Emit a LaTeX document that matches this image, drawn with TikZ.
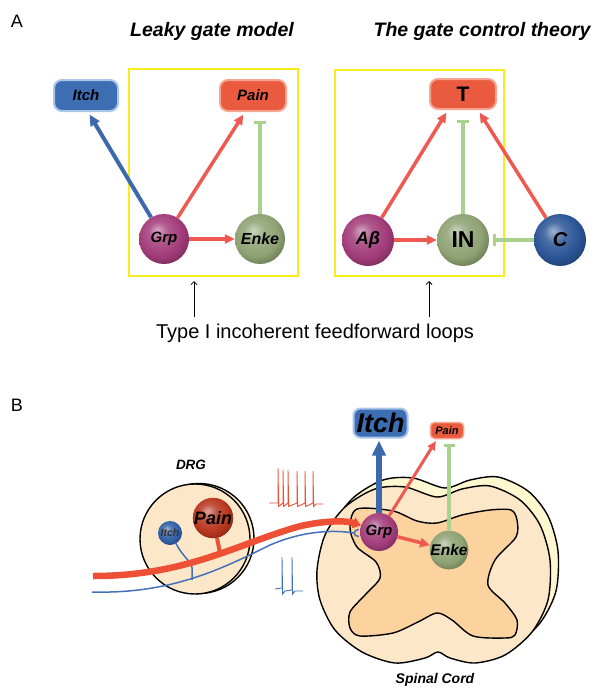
\documentclass[tikz,border=0pt]{standalone}
\usepackage{fontspec}
\setmainfont{Liberation Sans}
\usetikzlibrary{arrows.meta,calc}
\newcommand\myfs[1]{\fontsize{#1}{#1}\selectfont}
\definecolor{itchfill}{HTML}{3D6DB3}
\definecolor{itchedge}{HTML}{A9C5EA}
\definecolor{painfill}{HTML}{EA5A3F}
\definecolor{painedge}{HTML}{F7A38F}
\definecolor{redarr}{HTML}{EE5A52}
\definecolor{bluearr}{HTML}{3C68AD}
\definecolor{greenln}{HTML}{A9D28F}
\definecolor{yelbox}{HTML}{F9EC1C}
\definecolor{grpc}{HTML}{A23C7A}
\definecolor{enkec}{HTML}{8EA273}
\definecolor{cc}{HTML}{2B5597}
\definecolor{drgpain}{HTML}{B9371F}
\definecolor{drgitch}{HTML}{2F5EA5}
\definecolor{peach}{HTML}{FDE7C9}
\definecolor{lightyel}{HTML}{FEF7CF}
\definecolor{greymat}{HTML}{FCD29E}
\definecolor{fiberred}{HTML}{EE5036}
\definecolor{fiberblue}{HTML}{4470B8}
\colorlet{mycol}{red}
\pgfdeclareradialshading[mycol]{softball}{\pgfqpoint{-7bp}{9bp}}{color(0bp)=(mycol!45!white); color(10bp)=(mycol!85!white); color(22bp)=(mycol); color(32bp)=(mycol!72!black); color(50bp)=(mycol!55!black)}
\begin{document}
\begin{tikzpicture}[x=1pt,y=-1pt,
  sball/.style={circle, inner sep=0pt, minimum size=#1, shade, shading=softball},
  bcol/.code={\colorlet{mycol}{#1}},
  bt/.style={font=\bfseries\itshape\myfs{#1}},
  ttl/.style={font=\bfseries\itshape\myfs{19.5}},
  itchbox/.style={rounded corners=8pt, fill=itchfill, draw=itchedge, line width=2pt, inner sep=0pt},
  painbox/.style={rounded corners=8pt, fill=painfill, draw=painedge, line width=2pt, inner sep=0pt},
  ybox/.style={draw=yelbox, line width=2pt},
  rarr/.style={draw=redarr, line width=3.5pt, -{Triangle[length=10pt,width=9pt]}, shorten >=3pt},
  barr/.style={draw=bluearr, line width=4pt, -{Triangle[length=11pt,width=10pt]}, shorten >=3pt},
  ginh/.style={draw=greenln, line width=4pt, -{Bar[width=12pt,line width=3pt]}},
  thinarr/.style={draw=black, line width=0.8pt, -{Straight Barb[length=3pt,width=6pt]}},
  spk/.style={line width=0.9pt, line join=miter},
  outl/.style={draw=black, line width=1.4pt},
]
\useasboundingbox (0,0) rectangle (604,699);

% ---------------- Part A ----------------
\node[font=\myfs{18}] (labA) at (17,21) {A};
\node[ttl] (tl) at (212,31) {Leaky gate model};
\node[ttl] (tr) at (482,31) {The gate control theory};

\draw[ybox] (129,69) rectangle (298,276);
\draw[ybox] (335,70) rectangle (504,276);

\node[itchbox, minimum width=64pt, minimum height=31pt, bt=15] (itchA) at (86,95.5) {Itch};
\node[painbox, minimum width=66pt, minimum height=31pt, bt=15] (painA) at (253,95.5) {Pain};
\node[painbox, minimum width=66pt, minimum height=30pt, font=\bfseries\myfs{21}] (TA) at (463,94) {T};

\node[sball=50pt, bcol=grpc, bt=15] (grpA) at (164,239) {Grp};
\node[sball=50pt, bcol=enkec, bt=16] (enkeA) at (260,239) {Enke};
\node[sball=52pt, bcol=grpc, bt=18] (ab) at (368,240) {Aβ};
\node[sball=52pt, bcol=enkec, font=\bfseries\myfs{23}] (inA) at (463,240) {IN};
\node[sball=52pt, bcol=cc, bt=20] (cA) at (560,240) {C};

\draw[barr] (grpA) -- ([xshift=2pt]itchA.south);
\draw[rarr] (grpA) -- ([xshift=-8pt]painA.south);
\draw[ginh, shorten >=9pt] (enkeA) -- (enkeA |- painA.south);
\draw[rarr, shorten >=0pt] (grpA) -- (enkeA);

\draw[rarr] (ab) -- ([xshift=-15pt]TA.south);
\draw[ginh, shorten >=10pt] (inA) -- (inA |- TA.south);
\draw[rarr] (cA) -- ([xshift=15pt]TA.south);
\draw[rarr, shorten >=0pt] (ab) -- (inA);
\draw[ginh, shorten >=4pt] (cA) -- (inA);

\node[font=\myfs{20}, anchor=base] (ffl) at (315,338) {Type I incoherent feedforward loops};
\coordinate (fa1) at (194,317);
\coordinate (fa1t) at (194,281);
\coordinate (fa2) at (429,317);
\coordinate (fa2t) at (429,281);
\draw[thinarr] (fa1) -- (fa1t);
\draw[thinarr] (fa2) -- (fa2t);

% ---------------- Part B ----------------
\node[font=\myfs{18}] (labB) at (17,405) {B};

% spinal cord back and front
\begin{scope}[shift={(8,-9)}]
\draw[outl, fill=lightyel] plot[smooth cycle] coordinates {(437,497) (462,489) (490,486) (520,500) (540,525) (550,560) (548,600) (532,632) (505,655) (475,663) (450,658) (438,652) (425,658) (395,663) (362,652) (335,630) (320,600) (317,570) (325,535) (345,507) (375,489) (405,487)};
\end{scope}
\draw[outl, fill=peach] plot[smooth cycle] coordinates {(437,497) (462,489) (490,486) (520,500) (540,525) (550,560) (548,600) (532,632) (505,655) (475,663) (450,658) (438,652) (425,658) (395,663) (362,652) (335,630) (320,600) (317,570) (325,535) (345,507) (375,489) (405,487)};
\draw[outl, fill=greymat] plot[smooth cycle] coordinates {(357,509) (393,511) (417,521) (437,523) (462,515) (490,510) (511,510) (517,520) (516,537) (495,560) (488,585) (505,603) (517,620) (515,635) (505,638) (473,636) (452,620) (437,613) (418,622) (393,633) (360,636) (350,628) (350,612) (365,595) (380,578) (376,562) (357,547) (350,528)};

% DRG
\draw[outl, fill=lightyel] (199,538.5) circle[radius=55];
\node[circle, outl, fill=peach, minimum size=110pt, inner sep=0pt] (drg) at (195,539) {};
\node[bt=13.5] (drglab) at (191,465) {DRG};
\node[bt=14] (sclab) at (435,680) {Spinal Cord};

% spike trains
\draw[spk, draw=fiberred] (269,503) -- (278,503) -- (278,468) -- (278.7,506.5) -- (283,503) -- (283,470) -- (283.7,506.5) -- (288,503) -- (288,470) -- (288.7,506.5) -- (297,503) -- (297,471) -- (297.7,506.5) -- (305,503) -- (305,471) -- (305.7,506.5) -- (313,503) -- (313,471) -- (313.7,506.5) -- (316,504) -- (323,504);
\draw[spk, draw=fiberblue] (275,589) -- (282,588) -- (282,557) -- (282.6,594) -- (285,591) -- (292,590) -- (292,557) -- (292.6,594) -- (295,591) -- (303,591);

% nodes in B
\node[sball=24pt, bcol=drgitch, font=\bfseries\itshape\myfs{10.5}, text=black!80] (itchD) at (170,533) {Itch};
\node[sball=40pt, bcol=drgpain, bt=18] (painD) at (213,518) {Pain};
\node[sball=38pt, bcol=grpc, bt=15] (grpB) at (379,532) {Grp};
\node[sball=38pt, bcol=enkec, bt=15.5] (enkeB) at (449,550) {Enke};

% fibers
\coordinate (fibB) at (92,592);
\coordinate (fork) at ($(grpB.west)+(-6,1)$);
\draw[draw=fiberblue, line width=1.5pt] (fibB) .. controls (170,594) and (220,570) .. (270,545) .. controls (305,530) and (335,530) .. (fork);
\draw[draw=fiberblue, line width=1.5pt] ($(fork)+(5,-3.5)$) .. controls ($(fork)+(-1,-3.5)$) and ($(fork)+(-1,3.5)$) .. ($(fork)+(5,3.5)$);
\coordinate (itchJ) at (192,580);
\draw[draw=fiberblue, line width=1.5pt] (itchD.300) .. controls (182,556) and (192,562) .. (192,568) -- (itchJ);
\coordinate (fibR) at (93,576);
\coordinate (painJ) at (220,553);
\draw[draw=fiberred, line width=4pt] (painD) -- (painJ);
\draw[draw=fiberred, line width=6.5pt, -{Triangle[length=8pt,width=11pt]}] (fibR) .. controls (185,576) and (235,545) .. (297,527) .. controls (320,521) and (345,520) .. (grpB.160);
\node[sball=40pt, bcol=drgpain, bt=18] at (213,518) {Pain};

\node[itchbox, rounded corners=7pt, minimum width=54pt, minimum height=29pt, bt=27] (itchB) at (380.5,423) {Itch};
\node[painbox, rounded corners=4pt, line width=1.5pt, minimum width=33pt, minimum height=16pt, bt=11] (painB) at (447,430.5) {Pain};

\draw[draw=bluearr, line width=6pt, -{Triangle[length=15pt,width=13pt]}, shorten >=2pt] (grpB) -- (grpB |- itchB.south);
\draw[draw=redarr, line width=3pt, -{Triangle[length=9pt,width=8pt]}, shorten >=2pt] (grpB) -- ([xshift=-10pt]painB.south);
\draw[draw=greenln, line width=3.5pt, -{Bar[width=11pt,line width=3pt]}, shorten >=5pt] (enkeB) -- (enkeB |- painB.south);
\draw[draw=redarr, line width=3.5pt, -{Triangle[length=10pt,width=9pt]}] (grpB) -- (enkeB);
\end{tikzpicture}
\end{document}
